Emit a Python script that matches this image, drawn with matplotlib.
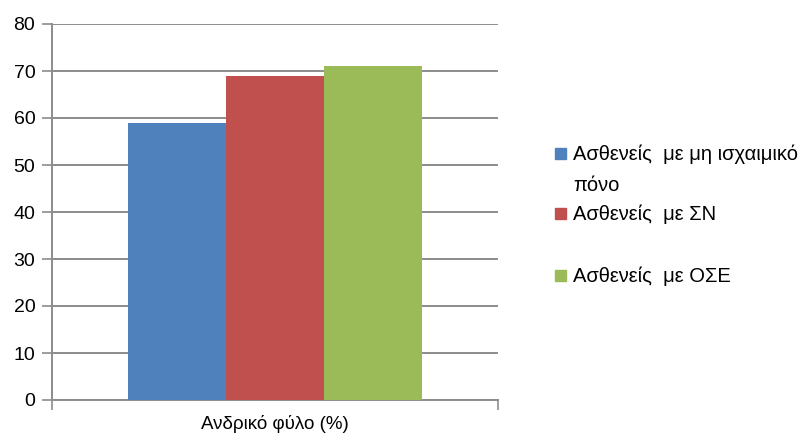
import matplotlib.pyplot as plt
from matplotlib.patches import Rectangle
import numpy as np

# Share of male patients per group
category = 'Ανδρικό φύλο (%)'
groups = ['Ασθενείς  με μη ισχαιμικό\nπόνο', 'Ασθενείς  με ΣΝ', 'Ασθενείς  με ΟΣΕ']
values = [59, 69, 71]
colors = ['#4f81bd', '#c0504d', '#9bbb59']

plt.rcParams['font.family'] = ['Liberation Sans', 'DejaVu Sans']

W, H = 808, 441
fig = plt.figure(figsize=(W / 100, H / 100), dpi=100)
ax = fig.add_axes([52 / W, 1 - 400 / H, 446 / W, 376 / H])

width = 0.22
offsets = (np.arange(len(values)) - 1) * width
for off, v, c in zip(offsets, values, colors):
    ax.bar(0.5 + off, v, width=width, color=c, zorder=3)

ax.set_xlim(0, 1)
ax.set_ylim(0, 80)
ax.set_yticks(np.arange(0, 81, 10))
ax.yaxis.grid(True, color='#8c8c8c', linewidth=1.4, zorder=0)

ax.set_xticks([0.5])
ax.set_xticklabels([category], fontsize=13.5)
ax.set_xticks([0, 1], minor=True)
ax.tick_params(axis='x', which='major', length=0, pad=11)
ax.tick_params(axis='x', which='minor', length=7, width=1.2, color='#8c8c8c', direction='out')
ax.tick_params(axis='y', length=7, width=1.2, color='#8c8c8c', direction='out',
               labelsize=14, pad=5)

for side in ['top', 'right']:
    ax.spines[side].set_visible(False)
for side in ['left', 'bottom']:
    ax.spines[side].set_color('#8c8c8c')
    ax.spines[side].set_linewidth(1.4)

# legend drawn by hand, baselines in pixels from the top
baselines = [160, 220, 282]
line_step = 31
for base, c, g in zip(baselines, colors, groups):
    fig.add_artist(Rectangle((555 / W, 1 - (base - 1) / H), 11 / W, 11 / H,
                             transform=fig.transFigure, color=c))
    for i, line in enumerate(g.split('\n')):
        fig.text(573 / W, 1 - (base + i * line_step) / H, line,
                 fontsize=14.5, va='baseline', ha='left')

fig.savefig('out.png', dpi=100)
